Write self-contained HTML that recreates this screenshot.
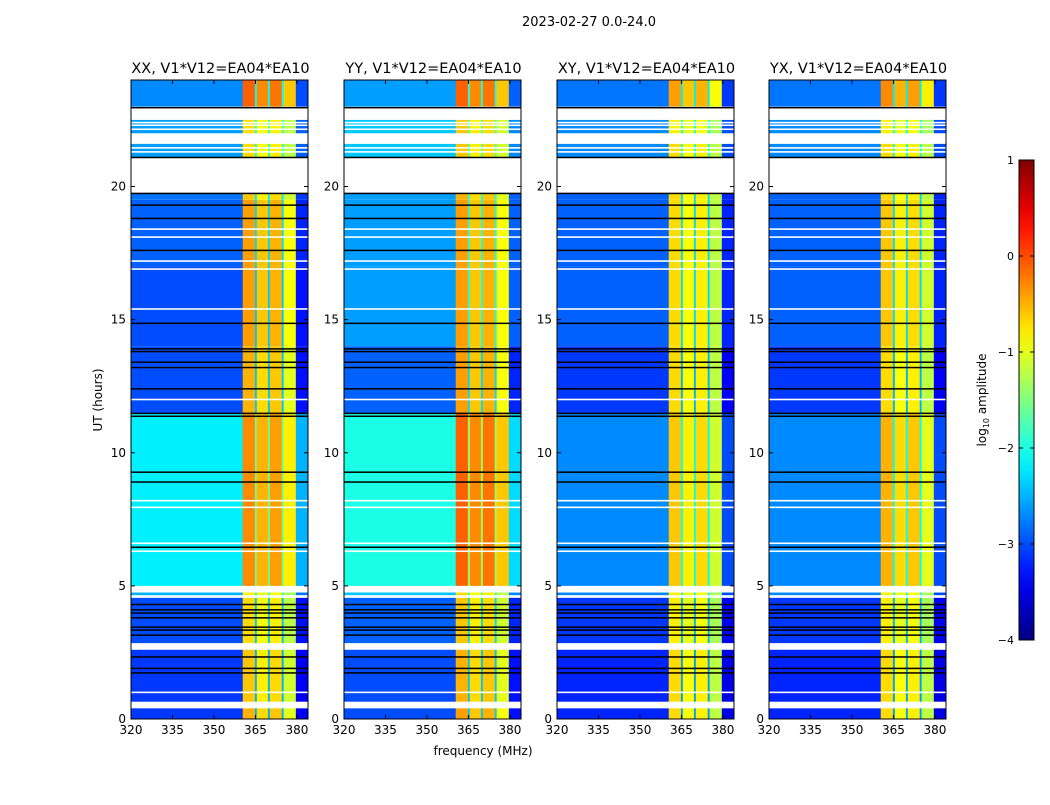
<!DOCTYPE html>
<html><head><meta charset="utf-8"><style>
body{margin:0;background:#fff;font-family:"Liberation Sans",sans-serif}
svg text{font-family:"DejaVu Sans","Liberation Sans",sans-serif}
</style></head><body>
<svg id="fig" width="1050" height="800" xmlns="http://www.w3.org/2000/svg"></svg>
<script>
// ---- data ----
const panelTitles = ["XX, V1*V12=EA04*EA10","YY, V1*V12=EA04*EA10","XY, V1*V12=EA04*EA10","YX, V1*V12=EA04*EA10"];
const segStart = [0.0,0.4,0.65,2.6,2.85,4.55,4.65,4.75,5.0,11.5,14.0,17.0,19.5,19.75,21.1,21.6,22.0,22.5,23.0];
const segEnd   = [0.4,0.65,2.6,2.85,4.55,4.65,4.75,5.0,11.5,14.0,17.0,19.5,19.75,21.1,21.6,22.0,22.5,23.0,24.0];
const bgXX   = [-3.1,null,-3.1,null,-3.0,null,-2.5,null,-2.2,-3.0,-3.0,-2.9,-2.8,null,-2.6,null,-2.6,null,-2.7];
const bandXX = [-0.7,null,-0.8,null,-0.9,null,-1.0,null,-0.5,-0.7,-0.6,-0.6,-0.8,null,-0.9,null,-0.9,null,-0.3];
const bgYY   = [-3.0,null,-3.0,null,-2.9,null,-2.4,null,-2.0,-2.9,-2.6,-2.6,-2.6,null,-2.4,null,-2.4,null,-2.6];
const bandYY = [-0.6,null,-0.7,null,-0.8,null,-0.9,null,-0.3,-0.6,-0.6,-0.6,-0.7,null,-0.8,null,-0.8,null,-0.3];
const bgXY   = [-3.2,null,-3.2,null,-3.1,null,-2.7,null,-2.7,-3.1,-2.9,-2.9,-2.9,null,-2.7,null,-2.7,null,-2.8];
const bandXY = [-0.9,null,-0.9,null,-1.0,null,-1.0,null,-0.8,-0.9,-0.9,-0.9,-0.9,null,-0.9,null,-1.0,null,-0.6];
const bgYX   = [-3.2,null,-3.2,null,-3.1,null,-2.7,null,-2.7,-3.1,-2.9,-2.9,-2.9,null,-2.7,null,-2.7,null,-2.8];
const bandYX = [-0.9,null,-0.9,null,-1.0,null,-1.0,null,-0.7,-0.9,-0.8,-0.8,-0.9,null,-0.9,null,-1.0,null,-0.5];
const bgLevels = [bgXX,bgYY,bgXY,bgYX];
const bandLevels = [bandXX,bandYY,bandXY,bandYX];
const colStart = [320,360.4,364.8,365.5,369.5,370.2,374.5,375.2,379.6];
const colEnd   = [360.4,364.8,365.5,369.5,370.2,374.5,375.2,379.6,384];
const colType  = ["bg","band","notch","band","notch","band","notch","band","edge"];
const colOffset= [0,0.2,0,0,0,0.1,0,-0.3,0];
const blackLines = [22.96,21.09,19.74,19.3,18.8,17.6,14.86,13.9,13.8,13.4,13.2,12.4,11.48,11.37,9.27,8.9,6.45,3.98,3.8,3.45,3.34,3.15,2.33,1.9,1.73,4.3,4.1];
const whiteLines = [17.2,16.9,15.4,12.0,8.2,7.95,6.3,6.6,1.0,18.4,18.1,21.3,21.45,22.15,22.3,22.4];
const xTicks = [320,335,350,365,380];
const yTicks = [0,5,10,15,20];
const cbTicks = [1,0,-1,-2,-3,-4];
const cbTickLabels = ["1","0","\u22121","\u22122","\u22123","\u22124"];

// ---- layout ----
const NS="http://www.w3.org/2000/svg";
const svg=document.getElementById('fig');
const panelLeft=[131,344,557,769], PW=177, PT=80, PB=719;
const xs=(f,i)=>panelLeft[i]+(f-320)/64*PW;
const ys=h=>PB-h/24*(PB-PT);
const vmin=-4,vmax=1;
function jet(v){let t=(v-vmin)/(vmax-vmin);t=Math.max(0,Math.min(1,t));
 const c=x=>Math.round(255*Math.max(0,Math.min(1,x)));
 return `rgb(${c(1.5-Math.abs(4*t-3))},${c(1.5-Math.abs(4*t-2))},${c(1.5-Math.abs(4*t-1))})`;}
function el(tag,attrs,parent){const e=document.createElementNS(NS,tag);for(const k in attrs)e.setAttribute(k,attrs[k]);(parent||svg).appendChild(e);return e;}
function txt(s,attrs,parent){const e=el('text',attrs,parent);e.textContent=s;return e;}

const sup=txt("2023-02-27 0.0-24.0",{x:589,y:26,'font-size':13,'text-anchor':'middle'});



for(let p=0;p<4;p++){
 const g=el('g',{});
 
 
 for(let s=0;s<segStart.length;s++){
  const bg=bgLevels[p][s], bd=bandLevels[p][s];
  if(bg===null) continue;
  for(let c=0;c<colStart.length;c++){
   const ty=colType[c];
   let v= ty==="bg"?bg: ty==="band"? bd+colOffset[c] : ty==="edge"? bg-0.3 : bg+0.6;
   const x0=xs(colStart[c],p),x1=xs(colEnd[c],p),y0=ys(segEnd[s]),y1=ys(segStart[s]);
   const r=el('rect',{x:x0,y:y0,width:x1-x0+0.3,height:y1-y0,fill:jet(v)},g);
   
   
  }
 }
 for(const h of whiteLines){const l=el('rect',{x:panelLeft[p],y:ys(h)-0.8,width:PW,height:1.6,fill:'#fff'},g);
  
  }
 for(const h of blackLines){const l=el('rect',{x:panelLeft[p],y:ys(h)-0.75,width:PW,height:1.5,fill:'#000'},g);
  
  }
 const fr=el('rect',{x:panelLeft[p],y:PT,width:PW,height:PB-PT,fill:'none',stroke:'#000','stroke-width':1},g);
 
 
 for(const t of xTicks){const x=xs(t,p);
  el('line',{x1:x,x2:x,y1:PB,y2:PB-4,stroke:'#000'},g);el('line',{x1:x,x2:x,y1:PT,y2:PT+4,stroke:'#000'},g);
  const tl=txt(String(t),{x:x,y:PB+15,'font-size':12,'text-anchor':'middle'},g);
  
  }
 for(const t of yTicks){const y=ys(t);
  el('line',{x1:panelLeft[p],x2:panelLeft[p]+4,y1:y,y2:y,stroke:'#000'},g);el('line',{x1:panelLeft[p]+PW,x2:panelLeft[p]+PW-4,y1:y,y2:y,stroke:'#000'},g);
  const tl=txt(String(t),{x:panelLeft[p]-5,y:y+4,'font-size':12,'text-anchor':'end'},g);
  
  }
 const ti=txt(panelTitles[p],{x:panelLeft[p]+PW/2+1,y:73,'font-size':14.5,'text-anchor':'middle'},g);
 
 
}
const yl=txt("UT (hours)",{x:0,y:0,'font-size':12,'text-anchor':'middle',transform:'translate(102,400) rotate(-90)'});


const xl=txt("frequency (MHz)",{x:483,y:755,'font-size':12,'text-anchor':'middle'});



// colorbar
const defs=el('defs',{});const gr=el('linearGradient',{id:'jetg',x1:0,y1:1,x2:0,y2:0},defs);
for(let i=0;i<=20;i++){el('stop',{offset:i/20,'stop-color':jet(vmin+(vmax-vmin)*i/20)},gr);}
const cb=el('g',{});


const CBT=160,CBB=640,CBX=1019,CBW=15;
el('rect',{x:CBX,y:CBT,width:CBW,height:CBB-CBT,fill:'url(#jetg)',stroke:'#000','stroke-width':1},cb);
const cs=v=>CBB-(v-vmin)/(vmax-vmin)*(CBB-CBT);
cbTicks.forEach((t,i)=>{const y=cs(t);
 el('line',{x1:CBX,x2:CBX+4,y1:y,y2:y,stroke:'#000'},cb);el('line',{x1:CBX+CBW,x2:CBX+CBW-4,y1:y,y2:y,stroke:'#000'},cb);
 const tl=txt(cbTickLabels[i],{x:CBX-5,y:y+4,'font-size':11,'text-anchor':'end'},cb);
 
 });
const cl=txt("",{x:0,y:0,'font-size':12,'text-anchor':'middle',transform:'translate(986,400) rotate(-90)'},cb);
cl.innerHTML='log<tspan font-size="8" dy="3">10</tspan><tspan dy="-3"> amplitude</tspan>';


</script>
</body></html>
